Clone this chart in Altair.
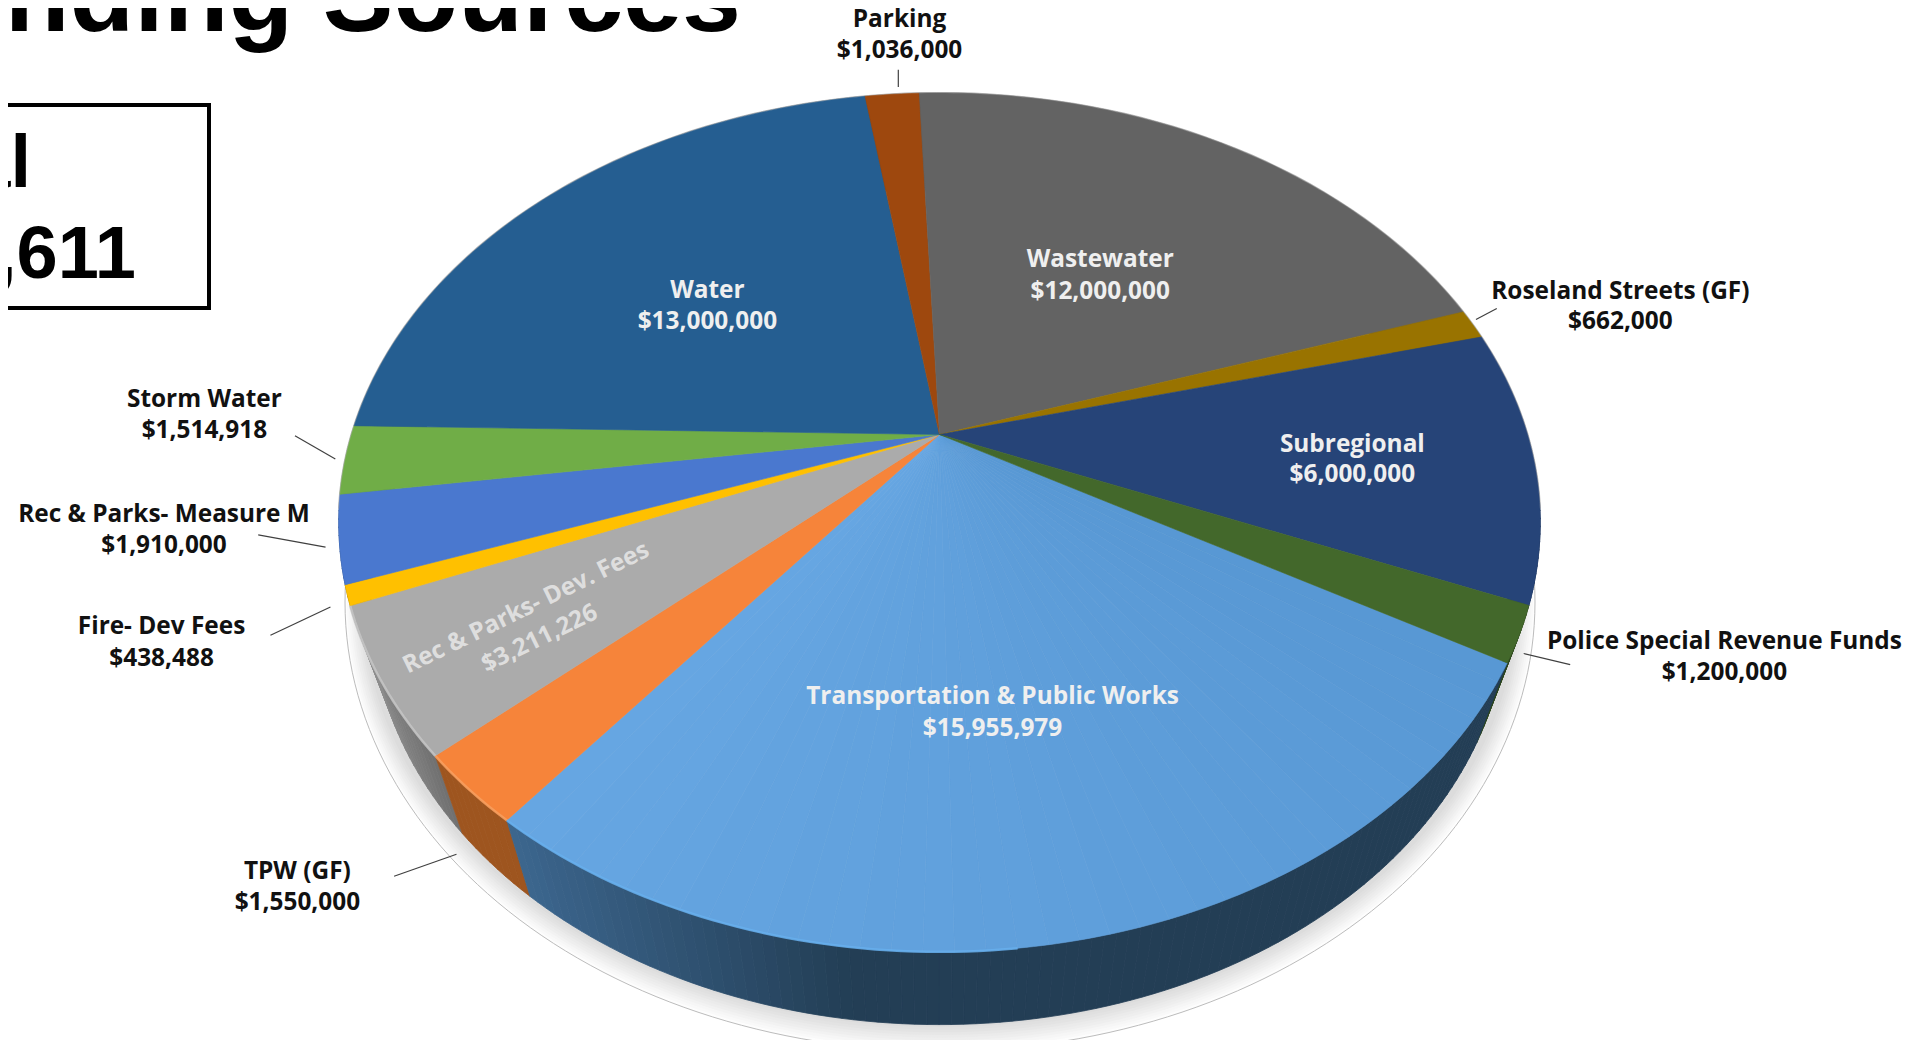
import math
import altair as alt

# ---- data (clockwise from the Transportation slice)
categories = ["Transportation & Public Works", "TPW (GF)", "Rec & Parks- Dev. Fees", "Fire- Dev Fees",
              "Rec & Parks- Measure M", "Storm Water", "Water", "Parking", "Wastewater",
              "Roseland Streets (GF)", "Subregional", "Police Special Revenue Funds"]
values = [15955979, 1550000, 3211226, 438488, 1910000, 1514918, 13000000, 1036000, 12000000,
          662000, 6000000, 1200000]
colors = ["#5c9cd8", "#f6843a", "#ababab", "#ffc000", "#4a78cf", "#70ad47", "#255e91", "#9e480e",
          "#636363", "#997300", "#264478", "#43682b"]
rim_colors = ["#68b0ee", "#f9a060", "#c6c6c6", "#ffc000", "#5a8fe8", "#70ad47", "#255e91", "#9e480e",
              "#636363", "#997300", "#264478", "#43682b"]
wall_colors = ["#233e55", "#9e551f", "#777777", "#a88400", "#2f4f88", "#4d7830", "#1a4265", "#6e3209",
               "#454545", "#6b5000", "#1a2f52", "#2c451c"]

# ---- page geometry of the tilted pie
OFF = 8
CX, APEX_Y, KP, A, B = 939.5, 434.5, 0.2048, 588.0, 411.4
START = 119.9
W, H = 1903, 1032


def top(th):
    r = math.radians(th)
    u, v = math.sin(r), math.cos(r)
    d = 1 + KP * v
    return [CX + A * u / d - OFF, APEX_Y - B * v / d - OFF]


def base(p):
    x, y = p[0] + OFF, p[1] + OFF
    return [CX + (x - CX) * 0.946 - OFF, y * 0.974 + 97.5 - OFF]


def feat(coords, fill, stroke=None, kind="Polygon"):
    geom = {"type": kind, "coordinates": [coords] if kind == "Polygon" else coords}
    return {"type": "Feature", "geometry": geom, "properties": {"fill": fill, "stroke": stroke or fill}}


def hex2(c):
    return [int(c[i:i + 2], 16) for i in (1, 3, 5)]


def lerp(c1, c2, t):
    t = max(0, min(1, t))
    a, b = hex2(c1), hex2(c2)
    return "#%02x%02x%02x" % tuple(round(a[i] + (b[i] - a[i]) * t) for i in range(3))


def ellipse(cx, cy, sx, sy):
    pts = []
    for i in range(241):
        r = math.radians(i * 1.5)
        pts.append([cx + sx * math.cos(r) - OFF, cy + sy * math.sin(r) - OFF])
    return pts


total = sum(values)
angles = [START]
for v in values:
    angles.append(angles[-1] + v / total * 360)

# shadow
shadow = []
for i in range(10):
    t = i / 9
    g = lerp("#fdfdfd", "#dcdcdc", t)
    shadow.append(feat(ellipse(940, 602, 595 - 18 * t, 449 - 24 * t), g, g))

# side wall: back slices first, so the front ones lie on top
wall = []
for i in reversed(range(len(wall_colors))):
    c = wall_colors[i]
    a0, a1 = angles[i], angles[i + 1]
    n = max(2, int((a1 - a0) / 1.0))
    for j in range(n):
        t0, t1 = a0 + (a1 - a0) * j / n, a0 + (a1 - a0) * (j + 1) / n
        p0, p1 = top(t0), top(t1)
        q0, q1 = base(p0), base(p1)
        col = c
        mx = (p0[0] + p1[0]) / 2 + OFF
        if i == 0:
            col = lerp("#3c668e", c, (mx - 508) / 340)
        elif i == 2:
            col = lerp("#8e8e8e", "#6e6e6e", (mx - 350) / 90)
        wall.append(feat([p0, p1, q1, q0, p0], col, col))

# top face
face = []
for i, c in enumerate(colors):
    a0, a1 = angles[i], angles[i + 1]
    if i == 0:
        n = 40
        for j in range(n):
            t0, t1 = a0 + (a1 - a0) * j / n, a0 + (a1 - a0) * (j + 1) / n
            col = lerp("#5898d4", "#66a6e2", j / (n - 1))
            pts = [[CX - OFF, APEX_Y - OFF]] + [top(t0 + (t1 - t0) * k / 4) for k in range(5)]
            face.append(feat(pts + [pts[0]], col, col))
    else:
        n = max(2, int(a1 - a0))
        pts = [[CX - OFF, APEX_Y - OFF]] + [top(a0 + (a1 - a0) * k / n) for k in range(n + 1)]
        face.append(feat(pts + [pts[0]], c, c))

# bright rim on the front edge
rim = []
for i in range(3):
    a0, a1 = angles[i], angles[i + 1]
    if i == 0:
        a0 = a1 - (a1 - a0) * 0.45
    n = max(2, int(a1 - a0))
    rim.append(feat([top(a0 + (a1 - a0) * k / n) for k in range(n + 1)], "none", rim_colors[i], "LineString"))

# thin grey outline round the back of the disc
back_edge = [feat([top(-100 + k * 2) for k in range(101)], "none", "#b4b4b4", "LineString")]

# box
box = [feat([[-20, 97], [201, 97], [201, 300], [-20, 300], [-20, 97]], "none", "#000000")]

PROJ = dict(type="identity", scale=1, translate=[0, 0])


def shape(features, sw):
    fill = alt.Fill("properties.fill:N", scale=None, legend=None)
    stroke = alt.Stroke("properties.stroke:N", scale=None, legend=None)
    return alt.Chart(alt.InlineData(values=features)).mark_geoshape(strokeWidth=sw).encode(
        fill=fill, stroke=stroke).project(**PROJ)


def outline(features, sw, opacity=1.0):
    return alt.Chart(alt.InlineData(values=features)).mark_geoshape(
        strokeWidth=sw, filled=False, opacity=opacity).encode(
        stroke=alt.Stroke("properties.stroke:N", scale=None, legend=None)).project(**PROJ)


outer = outline([feat(ellipse(940, 602, 595, 449), "none", "#bcbcbc")], 1)

# ---- labels: page position of each line, in the reference's pixels
S = 1919 / 1568
label_lines = [
    ("Parking", 735, 16.5, "#111111"), ("$1,036,000", 735, 41.5, "#111111"),
    ("Roseland Streets (GF)", 1324, 238.5, "#111111"), ("$662,000", 1324, 263.5, "#111111"),
    ("Police Special Revenue Funds", 1409, 524.5, "#111111"), ("$1,200,000", 1409, 549.5, "#111111"),
    ("TPW (GF)", 243, 712.5, "#111111"), ("$1,550,000", 243, 737.5, "#111111"),
    ("Fire- Dev Fees", 132, 512.5, "#111111"), ("$438,488", 132, 538.5, "#111111"),
    ("Rec & Parks- Measure M", 134, 420.5, "#111111"), ("$1,910,000", 134, 446.5, "#111111"),
    ("Storm Water", 167, 326.5, "#111111"), ("$1,514,918", 167, 352.5, "#111111"),
    ("Subregional", 1105, 363.5, "#efefef"), ("$6,000,000", 1105, 388.5, "#efefef"),
    ("Transportation & Public Works", 811, 569.5, "#efefef"), ("$15,955,979", 811, 595.5, "#efefef"),
    ("Water", 578, 237.5, "#efefef"), ("$13,000,000", 578, 263.5, "#efefef"),
    ("Wastewater", 899, 212.5, "#efefef"), ("$12,000,000", 899, 238.5, "#efefef"),
]
label_rows = [{"t": t, "x": x * S - OFF, "y": y * S - OFF, "c": c} for t, x, y, c in label_lines]
labels = alt.Chart(alt.Data(values=label_rows)).mark_text(
    font="Open Sans", fontWeight=700, fontSize=24.4, align="center", baseline="middle").encode(
    x=alt.X("x:Q", scale=None, axis=None), y=alt.Y("y:Q", scale=None, axis=None),
    text="t:N", color=alt.Color("c:N", scale=None, legend=None))

rot_rows = [{"t": "Rec & Parks- Dev. Fees", "x": 430 * S - OFF, "y": 497 * S - OFF},
            {"t": "$3,211,226", "x": 441 * S - OFF, "y": 522 * S - OFF}]
rot_labels = alt.Chart(alt.Data(values=rot_rows)).mark_text(
    font="Open Sans", fontWeight=700, fontSize=24.4, align="center", baseline="middle",
    angle=334, color="#dedede").encode(
    x=alt.X("x:Q", scale=None, axis=None), y=alt.Y("y:Q", scale=None, axis=None), text="t:N")

leader_ends = [(734, 57, 734, 71), (1206, 261, 1223, 252), (1245, 534, 1283, 543), (322, 716, 373, 698),
               (221, 519, 270, 496), (211, 437, 266, 447), (241, 356, 274, 375)]
leader_rows = [{"x": a * S - OFF, "y": b * S - OFF, "x2": c * S - OFF, "y2": d * S - OFF}
               for a, b, c, d in leader_ends]
leaders = alt.Chart(alt.Data(values=leader_rows)).mark_rule(color="#404040", strokeWidth=1.2).encode(
    x=alt.X("x:Q", scale=None, axis=None), y=alt.Y("y:Q", scale=None, axis=None),
    x2="x2:Q", y2="y2:Q")

text_rows = [
    {"t": "Funding Sources", "x": 741 - OFF, "y": 31 - OFF, "s": 106},
    {"t": "Total", "x": 31 - OFF, "y": 187 - OFF, "s": 74},
    {"t": "$58,478,611", "x": 136 - OFF, "y": 278 - OFF, "s": 74},
]
big_text = alt.Chart(alt.Data(values=text_rows)).mark_text(
    font="Liberation Sans", fontWeight="bold", align="right", baseline="alphabetic", color="#000000").encode(
    x=alt.X("x:Q", scale=None, axis=None), y=alt.Y("y:Q", scale=None, axis=None),
    text="t:N", size=alt.Size("s:Q", scale=None, legend=None))

chart = alt.layer(
    shape(shadow, 0), outer, shape(wall, 0.8), outline(back_edge, 2.2), shape(face, 0.6),
    outline(rim, 2.5, 0.85), outline(box, 4), big_text, leaders, labels, rot_labels
).properties(width=W, height=H, padding=0, autosize=alt.AutoSizeParams(type="none")).configure_view(stroke=None)

chart.save("out.html", embed_options={"renderer": "svg", "actions": False})
